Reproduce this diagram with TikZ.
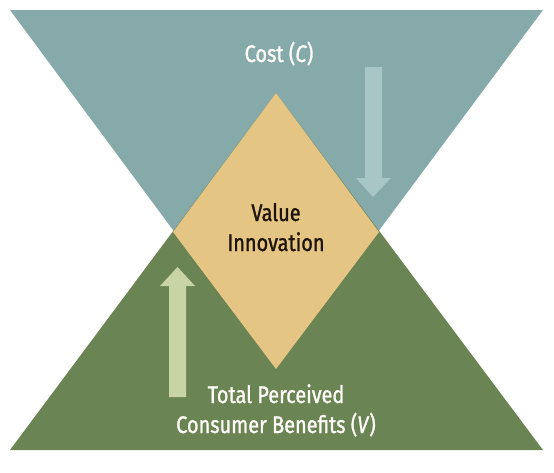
\documentclass[tikz,border=0pt]{standalone}
\usepackage{fontspec}
\setmainfont{Fira Sans}[FakeStretch=0.83,FakeBold=1.2]
\usetikzlibrary{positioning}
\definecolor{costteal}{HTML}{86AAAA}
\definecolor{benefitgreen}{HTML}{6B8453}
\definecolor{valuetan}{HTML}{E4C584}
\definecolor{arrowteal}{HTML}{A8C6C6}
\definecolor{arrowgreen}{HTML}{C8D4A6}
\begin{document}
\begin{tikzpicture}[x=1pt,y=-1pt,
      label/.style={font=\fontsize{24}{30}\selectfont,align=center,anchor=base,inner sep=0pt},
      whitelabel/.style={label,text=white!94!valuetan},
      darklabel/.style={label,text=black!85!brown}]
      \useasboundingbox (0,0) rectangle (554,472);
      \coordinate (tl) at (10,10);
      \coordinate (tr) at (543,10);
      \coordinate (bl) at (10,450);
      \coordinate (br) at (543,450);
      \coordinate (dtop) at (276,93);
      \coordinate (dbot) at (276,369);
      \coordinate (dleft) at (173,232);
      \coordinate (dright) at (379,232);
      % cost and benefits
      \fill[costteal] (tl) -- (tr) -- (dbot) -- cycle;
      \fill[benefitgreen] (bl) -- (br) -- (dtop) -- cycle;
      \fill[valuetan] (dtop) -- (dright) -- (dbot) -- (dleft) -- cycle;
      % arrows
      \fill[arrowteal] (365,67) -- (382,67) -- (382,178) -- (391,178)
        -- (373,197) -- (356,178) -- (365,178) -- cycle;
      \fill[arrowgreen] (169,397) -- (186,397) -- (186,286) -- (195,286)
        -- (177.5,267) -- (160,286) -- (169,286) -- cycle;
      \node[whitelabel] (cost) at (279,62) {Cost (\textit{C})};
      \node[darklabel] (value) at (276,251) {Value\\Innovation};
      \node[whitelabel] (benefits) at (276,433) {Total Perceived\\Consumer Benefits (\textit{V})};
\end{tikzpicture}
\end{document}
